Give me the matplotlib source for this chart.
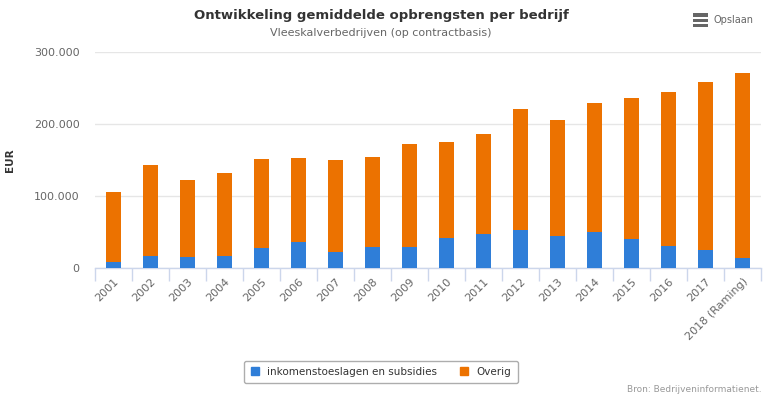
import matplotlib
matplotlib.use("Agg")
import matplotlib.pyplot as plt
from matplotlib.patches import Rectangle, Patch
from matplotlib.ticker import FuncFormatter, FixedLocator
import numpy as np

years = ["2001", "2002", "2003", "2004", "2005", "2006", "2007", "2008", "2009",
         "2010", "2011", "2012", "2013", "2014", "2015", "2016", "2017", "2018 (Raming)"]
totals = [105000, 143000, 122000, 132000, 151000, 152500, 150000, 154000, 172000,
          174700, 186000, 220700, 205400, 229000, 236000, 244000, 258000, 271000]
subsidies = [9000, 17000, 14600, 16000, 27600, 36000, 22000, 28500, 28500,
             41500, 47000, 52600, 45000, 50000, 39700, 31000, 24800, 13700]
overig = [t - s for t, s in zip(totals, subsidies)]

blue = "#2f7ed8"
orange = "#ec7200"

plt.rcParams['font.family'] = ['DejaVu Sans']
fig = plt.figure(figsize=(7.68, 3.99), dpi=100)
ax = fig.add_axes([95/768, 1-268/399, (761-95)/768, (268-52)/399])

x = np.arange(len(years))
w = 0.38
ax.bar(x, subsidies, width=w, color=blue, zorder=3, linewidth=0)
ax.bar(x, overig, width=w, bottom=subsidies, color=orange, zorder=3, linewidth=0)

ax.set_xlim(-0.5, len(years) - 0.5)
ax.set_ylim(0, 300000)
ax.set_yticks([0, 100000, 200000, 300000])
ax.yaxis.set_major_formatter(FuncFormatter(lambda v, p: f"{int(v):,}".replace(",", ".")))
ax.grid(axis='y', color='#e6e6e6', linewidth=1, zorder=0)
ax.tick_params(axis='y', length=0, labelsize=8, labelcolor='#666666', pad=11)

ax.set_xticks(x)
ax.set_xticklabels(years, rotation=45, ha='right', rotation_mode='anchor',
                   fontsize=8, color='#666666')
ax.tick_params(axis='x', which='major', length=0, pad=6)
ax.xaxis.set_minor_locator(FixedLocator(np.arange(-0.5, len(years), 1.0)))
ax.tick_params(axis='x', which='minor', length=9, color='#ccd6eb', width=1)

for s in ['top', 'right', 'left']:
    ax.spines[s].set_visible(False)
ax.spines['bottom'].set_color('#ccd6eb')
ax.spines['bottom'].set_linewidth(1)

ax.set_ylabel("EUR", fontsize=7.5, fontweight='bold', color='#333333')
ax.yaxis.set_label_coords((15 - 95) / 666, (268 - 160) / 216)

fig.text(0.5 * (213 + 549) / 768, 1 - 15/399, "Ontwikkeling gemiddelde opbrengsten per bedrijf",
         ha='center', va='center', fontsize=9.5, fontweight='bold', color='#333333')
fig.text(0.5 * (270 + 492) / 768, 1 - 33/399, "Vleeskalverbedrijven (op contractbasis)",
         ha='center', va='center', fontsize=8, color='#666666')

# Opslaan menu
for dy in (15, 20, 25):
    fig.add_artist(Rectangle((693/768, 1 - (dy + 1.5)/399), 15/768, 3/399,
                             transform=fig.transFigure, color='#666666', lw=0))
fig.text(714/768, 1 - 20/399, "Opslaan", ha='left', va='center', fontsize=7, color='#666666')

handles = [Patch(color=blue), Patch(color=orange)]
leg = fig.legend(handles, ["inkomenstoeslagen en subsidies", "Overig"], ncol=2,
                 loc='center', bbox_to_anchor=(381/768, 1 - 372/399),
                 fontsize=7.5, frameon=True, fancybox=True, edgecolor='#999999',
                 handlelength=0.8, handleheight=0.8, columnspacing=2.2,
                 handletextpad=0.8, borderpad=0.6)
leg.get_frame().set_linewidth(1)
for t in leg.get_texts():
    t.set_color('#333333')

fig.text(762/768, 1 - 390/399, "Bron: Bedrijveninformatienet.", ha='right', va='center',
         fontsize=6.5, color='#999999')

fig.savefig("out.png", dpi=100)
